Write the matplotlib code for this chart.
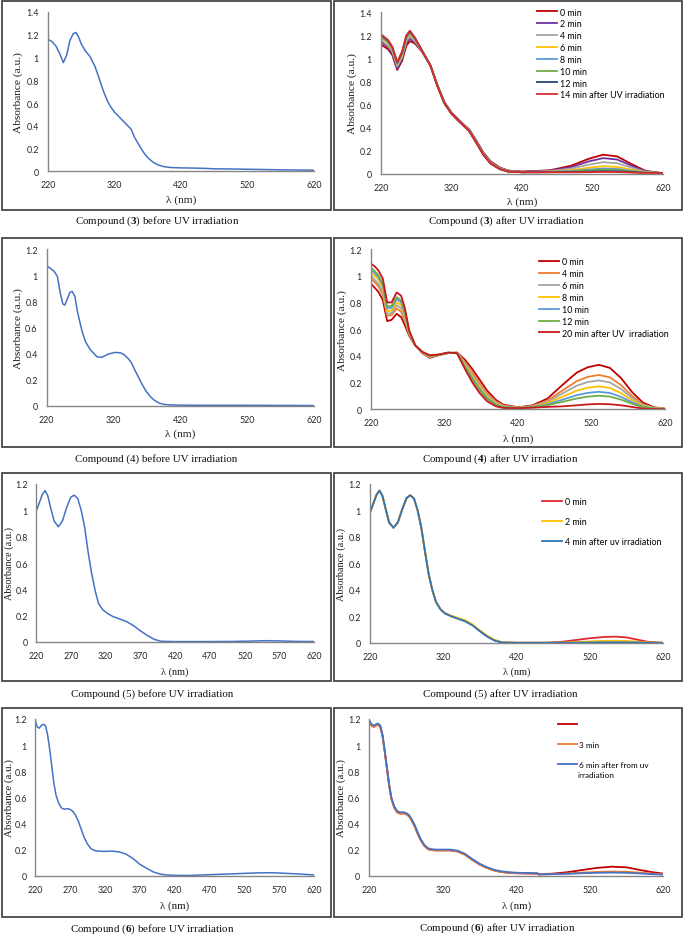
import matplotlib
matplotlib.use('Agg')
import matplotlib.pyplot as plt
from matplotlib.patches import Rectangle
from matplotlib.ticker import FuncFormatter

# --- 1. Daten ---
# Compound 3, before UV
wl_3_before = [220, 226, 232, 238, 243, 248, 253, 258, 262, 266, 270, 276, 283, 290, 295, 300, 305, 310, 315, 320,
               330, 340, 345, 350, 355, 360, 365, 370, 378, 386, 395, 405, 420, 440, 455, 470, 500, 540, 580, 620]
abs_3_before = [1.16, 1.14, 1.10, 1.03, 0.955, 1.02, 1.15, 1.21, 1.22, 1.18, 1.12, 1.06, 1.01, 0.93, 0.85, 0.76, 0.68, 0.61, 0.56, 0.52,
                0.46, 0.40, 0.37, 0.30, 0.25, 0.20, 0.155, 0.12, 0.08, 0.055, 0.04, 0.033, 0.03, 0.028, 0.026, 0.022, 0.02, 0.016, 0.012, 0.01]

# Compound 3, after UV
wl_3_after = [220, 230, 236, 243, 250, 256, 261, 268, 278, 290, 300, 310, 320, 333, 345, 355, 365, 375, 388, 400,
              420, 460, 490, 515, 535, 555, 575, 595, 620]
abs_3_0min = [1.12, 1.08, 1.03, 0.90, 0.98, 1.11, 1.15, 1.13, 1.06, 0.94, 0.77, 0.62, 0.53, 0.45, 0.385, 0.29, 0.185, 0.11, 0.055, 0.028,
              0.018, 0.030, 0.070, 0.130, 0.165, 0.150, 0.085, 0.025, 0.004]
abs_3_2min = [1.14, 1.10, 1.04, 0.91, 1.00, 1.13, 1.17, 1.14, 1.06, 0.94, 0.768, 0.618, 0.528, 0.448, 0.382, 0.286, 0.181, 0.106, 0.052, 0.026,
              0.017, 0.026, 0.058, 0.107, 0.135, 0.123, 0.070, 0.021, 0.004]
abs_3_4min = [1.16, 1.11, 1.06, 0.93, 1.01, 1.15, 1.19, 1.15, 1.064, 0.94, 0.766, 0.616, 0.526, 0.446, 0.379, 0.281, 0.176, 0.101, 0.049, 0.024,
              0.015, 0.022, 0.045, 0.079, 0.100, 0.091, 0.053, 0.017, 0.004]
abs_3_6min = [1.18, 1.13, 1.08, 0.95, 1.03, 1.17, 1.21, 1.165, 1.067, 0.94, 0.763, 0.613, 0.523, 0.443, 0.375, 0.277, 0.172, 0.097, 0.045, 0.021,
              0.014, 0.018, 0.031, 0.052, 0.065, 0.059, 0.035, 0.012, 0.004]
abs_3_8min = [1.19, 1.14, 1.09, 0.955, 1.04, 1.18, 1.22, 1.17, 1.068, 0.94, 0.762, 0.612, 0.522, 0.442, 0.373, 0.274, 0.169, 0.094, 0.043, 0.020,
              0.013, 0.016, 0.024, 0.036, 0.045, 0.041, 0.025, 0.010, 0.004]
abs_3_10min = [1.20, 1.15, 1.09, 0.96, 1.05, 1.19, 1.23, 1.175, 1.069, 0.94, 0.761, 0.611, 0.521, 0.441, 0.372, 0.273, 0.168, 0.093, 0.042, 0.019,
               0.013, 0.014, 0.020, 0.029, 0.035, 0.032, 0.020, 0.009, 0.004]
abs_3_12min = [1.205, 1.155, 1.10, 0.965, 1.055, 1.195, 1.235, 1.18, 1.07, 0.94, 0.76, 0.61, 0.52, 0.44, 0.371, 0.271, 0.166, 0.091, 0.041, 0.019,
               0.012, 0.013, 0.015, 0.018, 0.022, 0.020, 0.014, 0.007, 0.004]
abs_3_14min = [1.21, 1.16, 1.10, 0.97, 1.06, 1.20, 1.24, 1.18, 1.07, 0.94, 0.76, 0.61, 0.52, 0.44, 0.37, 0.27, 0.165, 0.09, 0.04, 0.018,
               0.012, 0.012, 0.012, 0.013, 0.015, 0.014, 0.010, 0.006, 0.004]
labels_3 = ['0 min', '2 min', '4 min', '6 min', '8 min', '10 min', '12 min', '14 min after UV irradiation']
colors_3 = ['#C00000', '#7030A0', '#A5A5A5', '#FFC000', '#5B9BD5', '#70AD47', '#264478', '#DE2B2B']

# Compound 4, before UV
wl_4_before = [220, 226, 231, 236, 240, 244, 247, 251, 255, 258, 262, 266, 270, 274, 278, 285, 295, 302, 312, 322,
               330, 336, 342, 347, 352, 357, 362, 368, 374, 380, 388, 395, 405, 420, 460, 520, 580, 620]
abs_4_before = [1.072, 1.05, 1.03, 0.99, 0.87, 0.78, 0.77, 0.82, 0.87, 0.875, 0.84, 0.72, 0.63, 0.55, 0.49, 0.43, 0.375, 0.37, 0.395, 0.408,
                0.405, 0.39, 0.36, 0.325, 0.27, 0.22, 0.17, 0.115, 0.075, 0.045, 0.02, 0.01, 0.006, 0.004, 0.003, 0.003, 0.002, 0.001]

# Compound 4, after UV
wl_4_after = [220, 225, 230, 236, 242, 248, 255, 261, 266, 272, 280, 290, 300, 312, 325, 337, 348, 358, 368, 378,
              390, 400, 420, 440, 460, 480, 500, 515, 530, 545, 560, 575, 590, 605, 620]
abs_4_0min = [0.94, 0.91, 0.88, 0.82, 0.66, 0.67, 0.715, 0.69, 0.63, 0.55, 0.48, 0.42, 0.385, 0.405, 0.42, 0.425, 0.37, 0.30, 0.22, 0.14,
              0.07, 0.035, 0.015, 0.03, 0.08, 0.18, 0.275, 0.315, 0.333, 0.31, 0.235, 0.13, 0.05, 0.015, 0.005]
abs_4_4min = [0.98, 0.95, 0.92, 0.86, 0.70, 0.705, 0.755, 0.73, 0.665, 0.56, 0.48, 0.423, 0.39, 0.406, 0.421, 0.424, 0.352, 0.274, 0.194, 0.119,
              0.058, 0.029, 0.013, 0.025, 0.064, 0.139, 0.211, 0.243, 0.257, 0.239, 0.182, 0.101, 0.038, 0.012, 0.004]
abs_4_6min = [1.00, 0.97, 0.94, 0.88, 0.715, 0.72, 0.78, 0.755, 0.68, 0.566, 0.48, 0.424, 0.393, 0.407, 0.422, 0.423, 0.342, 0.26, 0.18, 0.108,
              0.051, 0.025, 0.012, 0.023, 0.055, 0.117, 0.177, 0.204, 0.216, 0.201, 0.153, 0.085, 0.032, 0.010, 0.003]
abs_4_8min = [1.02, 1.00, 0.97, 0.91, 0.735, 0.74, 0.80, 0.78, 0.70, 0.572, 0.48, 0.426, 0.396, 0.408, 0.423, 0.422, 0.332, 0.245, 0.165, 0.096,
              0.044, 0.021, 0.011, 0.020, 0.046, 0.093, 0.140, 0.162, 0.172, 0.160, 0.122, 0.068, 0.025, 0.008, 0.003]
abs_4_10min = [1.04, 1.02, 0.99, 0.93, 0.755, 0.76, 0.825, 0.80, 0.72, 0.578, 0.48, 0.427, 0.399, 0.408, 0.423, 0.422, 0.322, 0.231, 0.151, 0.085,
               0.037, 0.018, 0.010, 0.018, 0.037, 0.071, 0.106, 0.123, 0.131, 0.122, 0.094, 0.053, 0.019, 0.006, 0.002]
abs_4_12min = [1.06, 1.035, 1.005, 0.945, 0.77, 0.775, 0.84, 0.815, 0.735, 0.582, 0.48, 0.428, 0.401, 0.409, 0.424, 0.421, 0.315, 0.221, 0.141, 0.077,
               0.032, 0.015, 0.009, 0.016, 0.031, 0.055, 0.081, 0.095, 0.102, 0.095, 0.073, 0.042, 0.014, 0.005, 0.002]
abs_4_20min = [1.09, 1.07, 1.04, 0.98, 0.80, 0.80, 0.875, 0.85, 0.76, 0.59, 0.48, 0.43, 0.405, 0.41, 0.425, 0.42, 0.30, 0.20, 0.12, 0.06,
               0.022, 0.01, 0.008, 0.012, 0.018, 0.022, 0.03, 0.037, 0.04, 0.038, 0.03, 0.018, 0.005, 0.002, 0.001]
labels_4 = ['0 min', '4 min', '6 min', '8 min', '10 min', '12 min', '20 min after UV  irradiation']
colors_4 = ['#C00000', '#ED7D31', '#A5A5A5', '#FFC000', '#5B9BD5', '#70AD47', '#C8161D']

# Compound 5, before UV
wl_5_before = [220, 225, 229, 233, 237, 241, 246, 252, 258, 264, 270, 275, 280, 285, 290, 295, 300, 305, 310, 316,
               322, 330, 340, 350, 360, 370, 380, 390, 400, 420, 460, 500, 530, 550, 570, 600, 620]
abs_5_before = [0.99, 1.06, 1.12, 1.15, 1.11, 1.02, 0.92, 0.875, 0.92, 1.02, 1.10, 1.115, 1.09, 1.00, 0.87, 0.68, 0.52, 0.39, 0.29, 0.245,
                0.22, 0.195, 0.175, 0.155, 0.125, 0.085, 0.05, 0.02, 0.005, 0.003, 0.003, 0.004, 0.007, 0.01, 0.008, 0.004, 0.004]

# Compound 5, after UV
wl_5_after = [220, 225, 229, 233, 237, 241, 246, 252, 258, 264, 270, 275, 280, 285, 290, 295, 300, 305, 310, 316,
              322, 330, 340, 350, 360, 370, 380, 390, 400, 420, 460, 480, 500, 520, 540, 555, 570, 585, 600, 620]
abs_5_0min = [0.985, 1.06, 1.12, 1.15, 1.11, 1.02, 0.91, 0.87, 0.91, 1.01, 1.095, 1.115, 1.09, 1.00, 0.87, 0.69, 0.52, 0.40, 0.31, 0.255,
              0.225, 0.205, 0.185, 0.165, 0.135, 0.09, 0.05, 0.02, 0.005, 0.002, 0.002, 0.008, 0.022, 0.036, 0.046, 0.048, 0.042, 0.025, 0.008, 0.002]
abs_5_2min = [0.985, 1.06, 1.12, 1.15, 1.11, 1.02, 0.91, 0.87, 0.91, 1.01, 1.095, 1.115, 1.09, 1.00, 0.87, 0.69, 0.52, 0.40, 0.31, 0.255,
              0.226, 0.208, 0.19, 0.172, 0.14, 0.095, 0.055, 0.024, 0.006, 0.002, 0.002, 0.003, 0.007, 0.012, 0.016, 0.017, 0.015, 0.010, 0.004, 0.002]
abs_5_4min = [0.985, 1.06, 1.12, 1.15, 1.11, 1.02, 0.91, 0.87, 0.91, 1.01, 1.095, 1.115, 1.09, 1.00, 0.87, 0.69, 0.52, 0.40, 0.31, 0.255,
              0.224, 0.203, 0.183, 0.163, 0.132, 0.088, 0.048, 0.018, 0.004, 0.002, 0.002, 0.002, 0.003, 0.004, 0.005, 0.006, 0.005, 0.004, 0.002, 0.001]
labels_5 = ['0 min', '2 min', '4 min after uv irradiation']
colors_5 = ['#E0282E', '#FFC000', '#2E75B6']

# Compound 6, before UV
wl_6_before = [220, 223, 226, 229, 232, 235, 238, 241, 244, 247, 250, 254, 258, 262, 266, 270, 274, 278, 282, 286,
               290, 295, 300, 305, 310, 320, 330, 340, 350, 360, 370, 380, 390, 400, 410, 420, 440, 460, 480, 500,
               520, 540, 560, 580, 600, 620]
abs_6_before = [1.20, 1.14, 1.13, 1.15, 1.16, 1.15, 1.08, 0.97, 0.84, 0.71, 0.62, 0.555, 0.52, 0.51, 0.515, 0.51, 0.495, 0.465, 0.42, 0.36,
                0.30, 0.245, 0.21, 0.195, 0.19, 0.188, 0.19, 0.185, 0.168, 0.135, 0.09, 0.058, 0.03, 0.014, 0.007, 0.005, 0.004, 0.008, 0.012, 0.016,
                0.02, 0.024, 0.025, 0.02, 0.015, 0.008]

# Compound 6, after UV
wl_6_after = [220, 223, 226, 229, 232, 235, 238, 241, 244, 247, 250, 254, 258, 262, 266, 270, 274, 278, 282, 286,
              290, 295, 300, 305, 310, 320, 330, 340, 350, 360, 370, 380, 390, 400, 410, 420, 440, 449, 451, 470,
              490, 510, 530, 550, 570, 590, 605, 620]
abs_6_0min = [1.18, 1.15, 1.14, 1.15, 1.155, 1.14, 1.07, 0.95, 0.82, 0.69, 0.59, 0.52, 0.485, 0.475, 0.478, 0.472, 0.456, 0.42, 0.375, 0.32,
              0.272, 0.228, 0.203, 0.196, 0.194, 0.194, 0.194, 0.186, 0.162, 0.122, 0.086, 0.06, 0.04, 0.028, 0.022, 0.019, 0.017, 0.016, 0.01, 0.016,
              0.027, 0.044, 0.06, 0.069, 0.064, 0.042, 0.027, 0.016]
abs_6_3min = [1.18, 1.15, 1.14, 1.15, 1.155, 1.14, 1.07, 0.95, 0.82, 0.69, 0.59, 0.52, 0.485, 0.475, 0.478, 0.472, 0.456, 0.42, 0.375, 0.32,
              0.272, 0.228, 0.203, 0.196, 0.194, 0.194, 0.194, 0.186, 0.162, 0.122, 0.086, 0.06, 0.04, 0.028, 0.022, 0.019, 0.017, 0.016, 0.009, 0.012,
              0.017, 0.024, 0.029, 0.032, 0.03, 0.023, 0.016, 0.011]
abs_6_6min = [1.19, 1.16, 1.15, 1.16, 1.165, 1.15, 1.08, 0.96, 0.83, 0.70, 0.60, 0.53, 0.495, 0.485, 0.487, 0.48, 0.465, 0.43, 0.385, 0.33,
              0.28, 0.235, 0.21, 0.203, 0.20, 0.20, 0.20, 0.192, 0.168, 0.128, 0.092, 0.065, 0.045, 0.033, 0.027, 0.023, 0.02, 0.019, 0.01, 0.012,
              0.015, 0.019, 0.022, 0.024, 0.022, 0.017, 0.012, 0.008]
labels_6 = [' ', '3 min', '6 min after from uv']
colors_6 = ['#C00000', '#ED7D31', '#4472C4']

ticks_100 = [220, 320, 420, 520, 620]
ticks_50 = [220, 270, 320, 370, 420, 470, 520, 570, 620]
yt_14 = [0, 0.2, 0.4, 0.6, 0.8, 1.0, 1.2, 1.4]
yt_12 = [0, 0.2, 0.4, 0.6, 0.8, 1.0, 1.2]

# --- 2. Figur ---
W, H = 685, 937
plt.rcParams['font.family'] = 'Lato'
plt.rcParams['mathtext.fontset'] = 'custom'
plt.rcParams['mathtext.rm'] = 'Liberation Serif'
plt.rcParams['mathtext.bf'] = 'Liberation Serif:bold'
SERIF = 'Liberation Serif'
TICK_FS = 6.4
LEG_FS = 6.4

fig = plt.figure(figsize=(W / 100, H / 100), dpi=100)


def make_axes(x0, x1, ytop, ybot, ymax, yticks, xticks, ylab_right, xlab_top, lab_size, ypad=6.5):
    ax = fig.add_axes([x0 / W, 1 - ybot / H, (x1 - x0) / W, (ybot - ytop) / H])
    ax.set_xlim(220, 620)
    ax.set_ylim(0, ymax)
    ax.set_xticks(xticks)
    ax.set_yticks(yticks)
    ax.yaxis.set_major_formatter(FuncFormatter(lambda v, p: f'{v:g}'))
    ax.tick_params(length=0, labelsize=TICK_FS, labelcolor='#262626')
    ax.tick_params(axis='x', pad=6.5)
    ax.tick_params(axis='y', pad=ypad)
    for s in ['top', 'right']:
        ax.spines[s].set_visible(False)
    for s in ['left', 'bottom']:
        ax.spines[s].set_color('#868686')
        ax.spines[s].set_linewidth(1.0)
    ax.set_ylabel('Absorbance (a.u.)', fontfamily=SERIF, fontsize=lab_size, color='#1a1a1a')
    ax.set_xlabel('λ (nm)', fontfamily=SERIF, fontsize=lab_size, color='#1a1a1a')
    ax.yaxis.set_label_coords((ylab_right - x0) / (x1 - x0), 0.5)
    ax.xaxis.set_label_coords(0.5, -(xlab_top - ybot) / (ybot - ytop))
    return ax


def add_legend(ax, x_px, top_px, spacing, fs=LEG_FS):
    ax.legend(loc='upper left', bbox_to_anchor=(x_px / W, 1 - top_px / H), bbox_transform=fig.transFigure,
              frameon=False, fontsize=fs, handlelength=2.3, handletextpad=0.25, labelspacing=spacing,
              borderpad=0, borderaxespad=0)


def box(x0, x1, y0, y1):
    fig.add_artist(Rectangle((x0 / W, 1 - y1 / H), (x1 - x0) / W, (y1 - y0) / H, transform=fig.transFigure,
                             fill=False, edgecolor='#3a3a3a', linewidth=1.2))


def caption(x_px, y_px, txt):
    fig.text(x_px / W, 1 - y_px / H, txt, ha='center', va='center', fontfamily=SERIF, fontsize=7.9, color='#111111')


# Rahmen
for (y0, y1) in [(2, 211), (239, 448), (474, 682), (709, 918)]:
    box(2, 331, y0, y1)
    box(334, 682, y0, y1)

# --- 3. Compound 3 ---
ax = make_axes(48, 314, 13, 172.3, 1.4, yt_14, ticks_100, 23, 195, 8.2)
ax.plot(wl_3_before, abs_3_before, color='#4472C4', lw=1.1)

ax = make_axes(381, 663, 13.3, 174.7, 1.4, yt_14, ticks_100, 357, 197, 8.2)
for ys, c, lab in zip([abs_3_0min, abs_3_2min, abs_3_4min, abs_3_6min, abs_3_8min, abs_3_10min, abs_3_12min, abs_3_14min],
                      colors_3, labels_3):
    ax.plot(wl_3_after, ys, color=c, lw=1.3, label=lab)
add_legend(ax, 537, 8.5, 0.32)

caption(157.5, 221, r'Compound ($\mathbf{3}$) before UV irradiation')
caption(506, 221, r'Compound ($\mathbf{3}$) after UV irradiation')

# --- 4. Compound 4 ---
ax = make_axes(46.7, 314.3, 250, 406.7, 1.2, yt_12, ticks_100, 23, 429, 8.2)
ax.plot(wl_4_before, abs_4_before, color='#4472C4', lw=1.1)

ax = make_axes(371, 665, 250, 410.3, 1.2, yt_12, ticks_100, 347, 434, 8.2)
for ys, c, lab in zip([abs_4_0min, abs_4_4min, abs_4_6min, abs_4_8min, abs_4_10min, abs_4_12min, abs_4_20min],
                      colors_4, labels_4):
    ax.plot(wl_4_after, ys, color=c, lw=1.3, label=lab)
add_legend(ax, 539, 258.5, 0.32)

caption(156, 459, 'Compound (4) before UV irradiation')
caption(500, 459, r'Compound ($\mathbf{4}$) after UV irradiation')

# --- 5. Compound 5 ---
ax = make_axes(36, 314.3, 485, 643, 1.2, yt_12, ticks_50, 14, 667, 7.4, ypad=5.8)
ax.plot(wl_5_before, abs_5_before, color='#4472C4', lw=1.1)

ax = make_axes(370, 663.3, 485, 644, 1.2, yt_12, ticks_100, 346, 667, 7.4)
for ys, c, lab in zip([abs_5_0min, abs_5_2min, abs_5_4min], colors_5, labels_5):
    ax.plot(wl_5_after, ys, color=c, lw=1.3, label=lab)
add_legend(ax, 542, 498.5, 1.2)

caption(152, 694, 'Compound (5) before UV irradiation')
caption(500, 694, 'Compound (5) after UV irradiation')

# --- 6. Compound 6 ---
ax = make_axes(35, 314.3, 720, 877, 1.2, yt_12, ticks_50, 14, 901, 7.8, ypad=5.8)
ax.plot(wl_6_before, abs_6_before, color='#4472C4', lw=1.1)

ax = make_axes(369.3, 663.3, 720, 876.7, 1.2, yt_12, ticks_100, 346, 901, 7.8)
for ys, c, lab in zip([abs_6_0min, abs_6_3min, abs_6_6min], colors_6, labels_6):
    ax.plot(wl_6_after, ys, color=c, lw=1.3, label=lab)
add_legend(ax, 558, 722, 1.6, fs=5.9)
fig.text(577.7 / W, 1 - 775.5 / H, 'irradiation', ha='left', va='center', fontsize=5.9)

caption(152, 929, r'Compound ($\mathbf{6}$) before UV irradiation')
caption(497, 928, r'Compound ($\mathbf{6}$) after UV irradiation')

fig.savefig('out.png', dpi=100)
